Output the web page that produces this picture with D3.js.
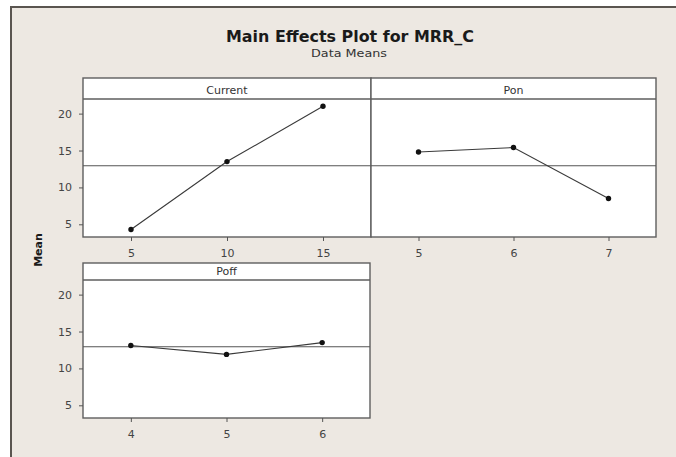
<!DOCTYPE html>
<html>
<head>
<meta charset="utf-8">
<script src="https://cdn.jsdelivr.net/npm/d3@7"></script>
<style>
  body { margin: 0; background: #fff; }
  svg { display: block; font-family: "DejaVu Sans", sans-serif; }
</style>
</head>
<body>
<div id="chart"></div>
<script>
var width = 676,
    height = 457;

// data
const factorNames = ["Current", "Pon", "Poff"];
const currentLevels = [5, 10, 15];
const currentMeans = [4.3, 13.5, 21.0];
const ponLevels = [5, 6, 7];
const ponMeans = [14.8, 15.4, 8.5];
const poffLevels = [4, 5, 6];
const poffMeans = [13.1, 11.9, 13.5];
const yTickValues = [5, 10, 15, 20];

const grandMean = d3.mean(currentMeans);

var svg = d3.select("#chart")
    .append("svg")
    .attr("width", width)
    .attr("height", height);

// beige window background
svg.append("rect")
    .attr("x", 10).attr("y", 6)
    .attr("width", width - 10).attr("height", height - 6)
    .attr("fill", "#ede8e2");

// frame edges
svg.append("line")
    .attr("x1", 10).attr("x2", width).attr("y1", 7).attr("y2", 7)
    .attr("stroke", "#5a5550").attr("stroke-width", 2);
svg.append("line")
    .attr("x1", 11).attr("x2", 11).attr("y1", 6).attr("y2", height)
    .attr("stroke", "#5a5550").attr("stroke-width", 2);

// titles
svg.append("text")
    .attr("x", 350).attr("y", 42)
    .attr("text-anchor", "middle")
    .attr("font-size", 15).attr("font-weight", "bold")
    .attr("fill", "#1a1a1a")
    .attr("textLength", 248).attr("lengthAdjust", "spacingAndGlyphs")
    .text("Main Effects Plot for MRR_C");

svg.append("text")
    .attr("x", 349).attr("y", 57)
    .attr("text-anchor", "middle")
    .attr("font-size", 11)
    .attr("fill", "#333")
    .attr("textLength", 76).attr("lengthAdjust", "spacingAndGlyphs")
    .text("Data Means");

// y axis title
svg.append("text")
    .attr("transform", "translate(42,250) rotate(-90)")
    .attr("text-anchor", "middle")
    .attr("font-size", 11).attr("font-weight", "bold")
    .attr("fill", "#1a1a1a")
    .text("Mean");

var panels = [
    { name: factorNames[0], levels: currentLevels, means: currentMeans,
      x0: 83, x1: 371, stripTop: 78, top: 99, bottom: 237, yAxis: true },
    { name: factorNames[1], levels: ponLevels, means: ponMeans,
      x0: 371, x1: 656, stripTop: 78, top: 99, bottom: 237, yAxis: false },
    { name: factorNames[2], levels: poffLevels, means: poffMeans,
      x0: 83, x1: 370, stripTop: 263, top: 280, bottom: 418, yAxis: true }
];

var line = d3.line();

panels.forEach(function(p) {
    var xScale = d3.scalePoint()
        .domain(p.levels)
        .range([p.x0, p.x1])
        .padding(0.5);

    var yScale = d3.scaleLinear()
        .domain([3.28, 21.9])
        .range([p.bottom, p.bottom - 137.4]);

    var g = svg.append("g");

    // plot + strip background
    g.append("rect")
        .attr("x", p.x0).attr("y", p.stripTop)
        .attr("width", p.x1 - p.x0).attr("height", p.bottom - p.stripTop)
        .attr("fill", "#fff")
        .attr("stroke", "#5e5e5e").attr("stroke-width", 1.4);

    g.append("line")
        .attr("x1", p.x0).attr("x2", p.x1)
        .attr("y1", p.top).attr("y2", p.top)
        .attr("stroke", "#5e5e5e").attr("stroke-width", 1.4);

    g.append("text")
        .attr("x", (p.x0 + p.x1) / 2)
        .attr("y", p.top - 5)
        .attr("text-anchor", "middle")
        .attr("font-size", 11)
        .attr("fill", "#333")
        .text(p.name);

    // grand mean reference line
    g.append("line")
        .attr("x1", p.x0).attr("x2", p.x1)
        .attr("y1", yScale(grandMean)).attr("y2", yScale(grandMean))
        .attr("stroke", "#555").attr("stroke-width", 1.2);

    var pts = p.levels.map(function(lv, i) { return [xScale(lv), yScale(p.means[i])]; });

    g.append("path")
        .attr("d", line(pts))
        .attr("fill", "none")
        .attr("stroke", "#3a3a3a")
        .attr("stroke-width", 1.1);

    g.selectAll(".dot")
        .data(pts)
        .enter().append("circle")
        .attr("class", "dot")
        .attr("cx", function(d) { return d[0]; })
        .attr("cy", function(d) { return d[1]; })
        .attr("r", 2.7)
        .attr("fill", "#111");

    // x axis
    var xAxis = g.append("g")
        .attr("transform", "translate(0," + p.bottom + ")")
        .call(d3.axisBottom(xScale).tickSize(4).tickPadding(8));
    xAxis.select(".domain").remove();
    xAxis.selectAll("line").attr("stroke", "#555");
    xAxis.selectAll("text")
        .attr("font-family", "DejaVu Sans")
        .attr("font-size", 11)
        .attr("fill", "#444");

    if (p.yAxis) {
        var yAxisG = g.append("g")
            .attr("transform", "translate(" + p.x0 + ",0)")
            .call(d3.axisLeft(yScale).tickValues(yTickValues).tickSize(4).tickPadding(7));
        yAxisG.select(".domain").remove();
        yAxisG.selectAll("line").attr("stroke", "#555");
        yAxisG.selectAll("text")
            .attr("font-family", "DejaVu Sans")
            .attr("font-size", 11)
            .attr("fill", "#444");
    }
});
</script>
</body>
</html>
